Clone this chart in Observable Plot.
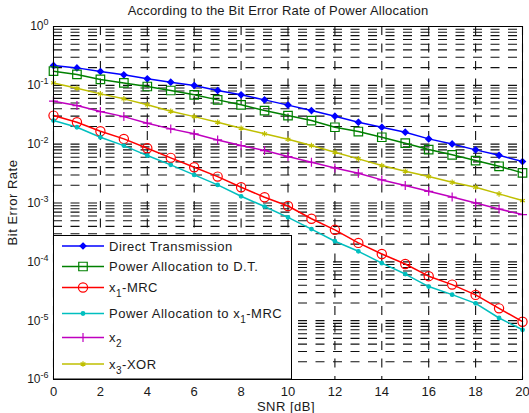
<!DOCTYPE html>
<html>
<head>
<meta charset="utf-8">
<script src="https://cdn.jsdelivr.net/npm/d3@7"></script>
<script src="https://cdn.jsdelivr.net/npm/@observablehq/plot@0.6"></script>
<style>
  html, body { margin: 0; padding: 0; background: #fff; }
  #chart svg { display: block; }
</style>
</head>
<body>
<div id="chart"></div>
<script>
// SNR axis (dB)
const snr = [0, 1, 2, 3, 4, 5, 6, 7, 8, 9, 10, 11, 12, 13, 14, 15, 16, 17, 18, 19, 20];

// Bit error rate of each scheme, one value per SNR step
const directTransmission = [0.217, 0.198, 0.172, 0.151, 0.129, 0.113, 0.0993, 0.0817, 0.0689, 0.0566, 0.0461,
  0.0372, 0.0299, 0.0236, 0.0194, 0.0160, 0.0123, 0.0101, 0.0080, 0.00646, 0.00506];
const powerAllocationDT = [0.174, 0.153, 0.126, 0.110, 0.0955, 0.0817, 0.0689, 0.0566, 0.0466, 0.0372, 0.0306,
  0.0252, 0.0194, 0.0164, 0.0131, 0.0104, 0.0081, 0.0066, 0.00526, 0.00421, 0.00325];
const x1MRC = [0.0306, 0.0236, 0.0166, 0.0123, 0.00851, 0.00585, 0.00405, 0.00281, 0.00185, 0.00125, 0.00089,
  0.00054, 0.00035, 0.00021, 0.000136, 0.000092, 0.000057, 0.000041, 0.0000274, 0.0000162, 0.0000096];
const powerAllocationX1MRC = [0.0252, 0.0194, 0.0131, 0.00946, 0.0064, 0.00445, 0.0030, 0.00203, 0.0013, 0.00087, 0.00057,
  0.00036, 0.000224, 0.000151, 0.000095, 0.000062, 0.000038, 0.0000277, 0.0000197, 0.0000111, 0.0000070];
const x2 = [0.0537, 0.0453, 0.0358, 0.0294, 0.0227, 0.0182, 0.0150, 0.0118, 0.00946, 0.00778, 0.00615,
  0.00493, 0.00395, 0.00321, 0.00247, 0.00198, 0.00158, 0.00126, 0.00100, 0.00079, 0.000635];
const x3XOR = [0.110, 0.0893, 0.0716, 0.0589, 0.0466, 0.0363, 0.0294, 0.0236, 0.0187, 0.0150, 0.0121,
  0.00946, 0.00730, 0.00562, 0.00433, 0.00347, 0.00281, 0.00225, 0.00185, 0.00143, 0.00110];

// Legend names ("_n" marks a subscript)
const seriesNames = [
  "Direct Transmission",
  "Power Allocation to D.T.",
  "x_1-MRC",
  "Power Allocation to x_1-MRC",
  "x_2",
  "x_3-XOR"
];

// Tick values
const xTicks = [0, 2, 4, 6, 8, 10, 12, 14, 16, 18, 20];
const yTicks = [1e-6, 1e-5, 1e-4, 1e-3, 1e-2, 1e-1, 1];
const titleText = "According to the Bit Error Rate of Power Allocation";
const xLabel = "SNR [dB]";
const yLabel = "Bit Error Rate";

// Drawing style of every curve, in legend order
const styles = [
  {values: directTransmission,   color: "#0000ff", symbol: "diamond2", r: 2.7, filled: true},
  {values: powerAllocationDT,    color: "#008000", symbol: "square",   r: 4.8, filled: false},
  {values: x1MRC,                color: "#ff0000", symbol: "circle",   r: 4.6, filled: false},
  {values: powerAllocationX1MRC, color: "#00bfbf", symbol: "circle",   r: 1.8, filled: true},
  {values: x2,                   color: "#bf00bf", symbol: "plus",     r: 3.0, filled: false},
  {values: x3XOR,                color: "#bfbf00", symbol: "asterisk", r: 2.6, filled: false}
];

const series = styles.map((s, i) => ({
  ...s,
  name: seriesNames[i],
  rows: snr.map((x, j) => ({snr: x, ber: s.values[j]}))
}));

// Log grid: every decade plus its 2..9 subdivisions
const gridY = [];
for (let e = -6; e <= -1; e++) for (let m = 1; m <= 9; m++) gridY.push(m * Math.pow(10, e));
gridY.push(1);

const W = 529, H = 413;
const mL = 53, mR = 7, mT = 26, mB = 34;
const fontFamily = "'Liberation Sans', Arial, Helvetica, sans-serif";
const ink = "#1a1a1a";

const chart = Plot.plot({
  width: W,
  height: H,
  marginLeft: mL,
  marginRight: mR,
  marginTop: mT,
  marginBottom: mB,
  style: {fontFamily, fontSize: "12px", background: "#fff", color: ink, overflow: "visible"},
  x: {domain: [0, 20]},
  y: {type: "log", domain: [1e-6, 1]},
  marks: [
    Plot.ruleY(gridY, {stroke: "#111", strokeWidth: 1.1, strokeDasharray: "9,8.5"}),
    Plot.ruleX(xTicks, {stroke: "#111", strokeWidth: 1.1, strokeDasharray: "9,8.5"}),
    ...series.map(s => Plot.line(s.rows, {x: "snr", y: "ber", stroke: s.color, strokeWidth: 1.5})),
    ...series.map(s => Plot.dot(s.rows, {
      x: "snr", y: "ber", symbol: s.symbol, r: s.r,
      stroke: s.color, fill: s.filled ? s.color : "none", strokeWidth: 1.2
    })),
    Plot.frame({stroke: "#000", strokeWidth: 1}),
    Plot.axisX({ticks: xTicks, tickSize: 0, tickPadding: 7, label: null, fontSize: 13}),
    Plot.axisY({ticks: yTicks, tickSize: 0, tickPadding: 5, label: null, fontSize: 12,
      tickFormat: d => "10^" + Math.round(Math.log10(d))})
  ]
});

document.getElementById("chart").appendChild(chart);

const svg = d3.select(chart);

// Superscript exponents on the y tick labels
svg.selectAll('g[aria-label="y-axis tick label"] text').each(function () {
  const t = d3.select(this);
  const [base, exp] = t.text().split("^");
  t.text(base);
  t.append("tspan").attr("dy", "-0.55em").attr("font-size", "9px").text(exp);
});

// Writes a label into a text node, lowering "_n" parts as subscripts
function richText(node, label) {
  const parts = label.split(/_(\d)/);
  parts.forEach((p, i) => {
    if (!p) return;
    if (i % 2 === 1) {
      node.append("tspan").attr("dy", "5").attr("font-size", "10px").text(p);
    } else {
      const ts = node.append("tspan").text(p);
      if (i > 0) ts.attr("dy", "-5");
    }
  });
}

// Title and axis labels
svg.append("text")
  .attr("x", 278).attr("y", 10).attr("dy", "0.35em")
  .attr("text-anchor", "middle").attr("font-size", 13).attr("letter-spacing", 0.2).attr("fill", ink)
  .text(titleText);
svg.append("text")
  .attr("x", 286).attr("y", 406).attr("dy", "0.35em")
  .attr("text-anchor", "middle").attr("font-size", 13).attr("letter-spacing", 0.5).attr("fill", ink)
  .text(xLabel);
svg.append("text")
  .attr("transform", `translate(12,${(mT + H - mB) / 2}) rotate(-90)`)
  .attr("dy", "0.35em")
  .attr("text-anchor", "middle").attr("font-size", 13).attr("letter-spacing", 0.5).attr("fill", ink)
  .text(yLabel);

// Legend box in the lower-left corner of the axes
const legendRows = [246, 266.5, 287.5, 313.5, 337.5, 364];
const lg = svg.append("g")
  .attr("font-family", fontFamily).attr("font-size", 13)
  .attr("letter-spacing", 0.5).attr("text-anchor", "start");
lg.append("rect")
  .attr("x", mL + 0.5).attr("y", 235.5)
  .attr("width", 238).attr("height", H - mB - 235.5)
  .attr("fill", "#fff").attr("stroke", "#000").attr("stroke-width", 1);

const symbolTypes = {
  diamond2: d3.symbolDiamond2, square: d3.symbolSquare, circle: d3.symbolCircle,
  plus: d3.symbolPlus, asterisk: d3.symbolAsterisk
};

series.forEach((s, i) => {
  const y = legendRows[i];
  lg.append("line")
    .attr("x1", 62).attr("x2", 104).attr("y1", y).attr("y2", y)
    .attr("stroke", s.color).attr("stroke-width", 1.5);
  lg.append("path")
    .attr("transform", `translate(83,${y})`)
    .attr("d", d3.symbol(symbolTypes[s.symbol], Math.PI * s.r * s.r)())
    .attr("stroke", s.color).attr("stroke-width", 1.2)
    .attr("fill", s.filled ? s.color : "none");
  const t = lg.append("text")
    .attr("x", 109).attr("y", y).attr("dy", "0.35em")
    .attr("text-anchor", "start").attr("fill", ink);
  richText(t, s.name);
});
</script>
</body>
</html>
